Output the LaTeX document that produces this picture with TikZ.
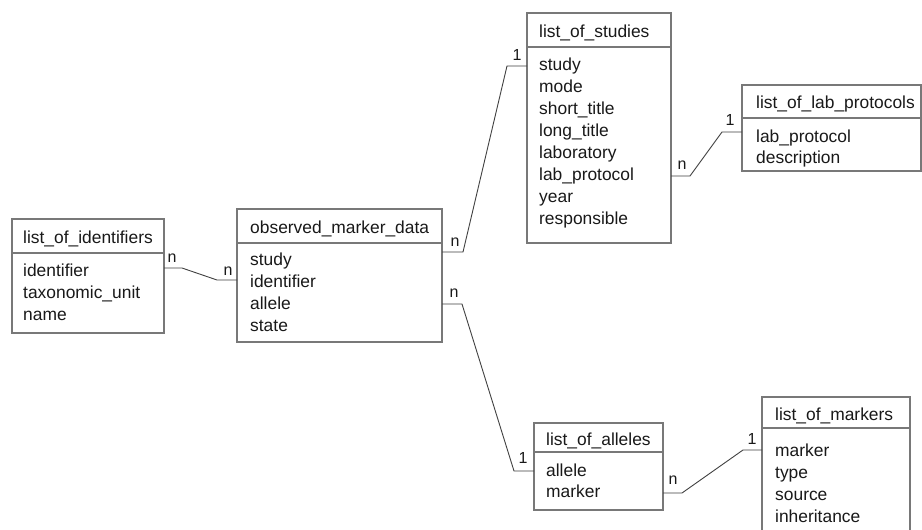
\documentclass[tikz,border=0pt]{standalone}
\usepackage{fontspec}
\setmainfont{Liberation Sans}
\usetikzlibrary{calc}
\definecolor{boxc}{RGB}{120,120,120}
\definecolor{linec}{RGB}{65,65,65}
\definecolor{txt}{RGB}{25,25,25}
\begin{document}
\begin{tikzpicture}[x=1pt,y=-1pt,
 tbl/.style={draw=boxc, line width=1.3pt, anchor=north west, inner sep=0pt, outer sep=0pt},
 divider/.style={draw=boxc, line width=1.3pt},
 ttl/.style={anchor=base west, inner sep=0pt, text=txt, font=\fontsize{17.4}{22}\selectfont},
 itm/.style={ttl},
 conn/.style={draw=linec, line width=0.9pt},
 card/.style={inner sep=0pt, text=txt, font=\fontsize{16}{18}\selectfont}]
\useasboundingbox (0,0) rectangle (922,530);
\clip (0,0) rectangle (922,530);
\fill[white] (0,0) rectangle (922,530);

% list_of_identifiers
\node[tbl, minimum width=152pt, minimum height=114pt] (ids) at (12,219) {};
\draw[divider] (ids.west |- 0,253) -- (ids.east |- 0,253);
\node[ttl] (idsT) at (23,243) {list\_of\_identifiers};
\foreach \t [count=\i] in {identifier,taxonomic\_unit,name}
  \node[itm] (ids\i) at (23,{254+22*\i}) {\t};

% observed_marker_data
\node[tbl, minimum width=205pt, minimum height=133pt] (obs) at (237,209) {};
\draw[divider] (obs.west |- 0,243) -- (obs.east |- 0,243);
\node[ttl] (obsT) at (250,233) {observed\_marker\_data};
\foreach \t [count=\i] in {study,identifier,allele,state}
  \node[itm] (obs\i) at (250,{243+22*\i}) {\t};

% list_of_studies
\node[tbl, minimum width=144pt, minimum height=230pt] (stu) at (527,13) {};
\draw[divider] (stu.west |- 0,47) -- (stu.east |- 0,47);
\node[ttl] (stuT) at (539,37) {list\_of\_studies};
\foreach \t [count=\i] in {study,mode,short\_title,long\_title,laboratory,lab\_protocol,year,responsible}
  \node[itm] (stu\i) at (539,{48+22.1*\i}) {\t};

% list_of_lab_protocols
\node[tbl, minimum width=179pt, minimum height=86pt] (lab) at (742,85) {};
\draw[divider] (lab.west |- 0,118) -- (lab.east |- 0,118);
\node[ttl] (labT) at (756,108) {list\_of\_lab\_protocols};
\foreach \t [count=\i] in {lab\_protocol,description}
  \node[itm] (lab\i) at (756,{121+21*\i}) {\t};

% list_of_alleles
\node[tbl, minimum width=129pt, minimum height=87pt] (all) at (534,423) {};
\draw[divider] (all.west |- 0,452) -- (all.east |- 0,452);
\node[ttl] (allT) at (546,445) {list\_of\_alleles};
\foreach \t [count=\i] in {allele,marker}
  \node[itm] (all\i) at (546,{455+21*\i}) {\t};

% list_of_markers
\node[tbl, minimum width=148pt, minimum height=140pt] (mrk) at (762,397) {};
\draw[divider] (mrk.west |- 0,428) -- (mrk.east |- 0,428);
\node[ttl] (mrkT) at (775,420) {list\_of\_markers};
\foreach \t [count=\i] in {marker,type,source,inheritance}
  \node[itm] (mrk\i) at (775,{434+22*\i}) {\t};

% connectors
\draw[conn] (ids.east |- 0,268) -- ++(18,0) -- (217,280) -- (obs.west |- 0,280);
\draw[conn] (obs.east |- 0,252) -- ++(21,0) -- (507,66) -- (stu.west |- 0,66);
\draw[conn] (obs.east |- 0,304) -- ++(20,0) -- (514,471) -- (all.west |- 0,471);
\draw[conn] (stu.east |- 0,176) -- ++(19,0) -- (722,132) -- (lab.west |- 0,132);
\draw[conn] (all.east |- 0,493) -- ++(19,0) -- (743,450) -- (mrk.west |- 0,450);

% cardinalities
\node[card] (c1) at (172,258) {n};
\node[card] (c2) at (228,271) {n};
\node[card] (c3) at (455,242) {n};
\node[card] (c4) at (517,55) {1};
\node[card] (c5) at (682,165) {n};
\node[card] (c6) at (730,120) {1};
\node[card] (c7) at (454,293) {n};
\node[card] (c8) at (523,458) {1};
\node[card] (c9) at (673,480) {n};
\node[card] (c10) at (752,439) {1};
\end{tikzpicture}
\end{document}
